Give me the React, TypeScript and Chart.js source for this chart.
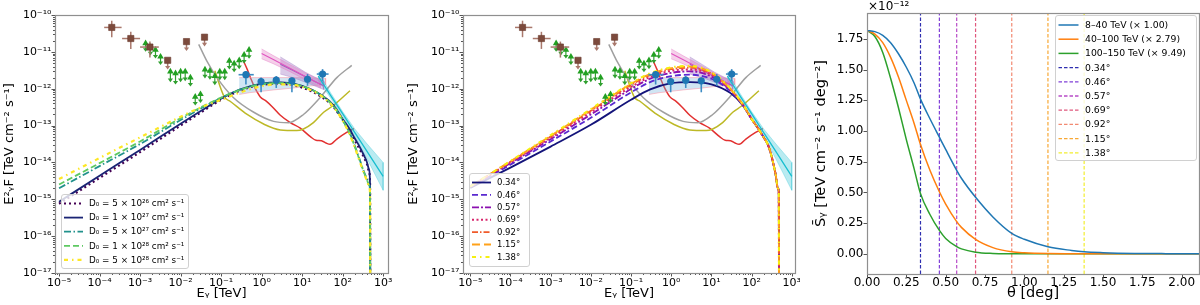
import React, { useEffect, useRef } from 'react';
import { Chart, registerables } from 'chart.js';

Chart.register(...registerables);

const FONT = "'DejaVu Sans', 'Liberation Sans', sans-serif";
const FRAME = '#8f8f8f';
const TICK = '#555555';

// ---------------- axis ticks ----------------
const E_TICKS = [1e-5, 1e-4, 1e-3, 1e-2, 1e-1, 1, 10, 100, 1000];
const E_TICK_LABELS = ['10⁻⁵', '10⁻⁴', '10⁻³', '10⁻²', '10⁻¹', '10⁰', '10¹', '10²', '10³'];
const F_TICKS = [1e-17, 1e-16, 1e-15, 1e-14, 1e-13, 1e-12, 1e-11, 1e-10];
const F_TICK_LABELS = ['10⁻¹⁷', '10⁻¹⁶', '10⁻¹⁵', '10⁻¹⁴', '10⁻¹³', '10⁻¹²', '10⁻¹¹', '10⁻¹⁰'];
const THETA_TICKS = [0, 0.25, 0.5, 0.75, 1.0, 1.25, 1.5, 1.75, 2.0];
const THETA_TICK_LABELS = ['0.00', '0.25', '0.50', '0.75', '1.00', '1.25', '1.50', '1.75', '2.00'];
const S_TICKS = [0, 0.25, 0.5, 0.75, 1.0, 1.25, 1.5, 1.75];
const S_TICK_LABELS = ['0.00', '0.25', '0.50', '0.75', '1.00', '1.25', '1.50', '1.75'];

// ---------------- observational data (TeV, TeV cm^-2 s^-1) ----------------
// brown squares
const SQ_E = [2.0e-4, 5.9e-4, 1.75e-3, 4.8e-3, 1.4e-2, 3.9e-2];
const SQ_F = [4.6e-11, 2.3e-11, 1.35e-11, 5.9e-12, 1.9e-11, 2.5e-11];
const SQ_E_LO = [1.3e-4, 3.6e-4, 1.0e-3, null, null, null];
const SQ_E_HI = [3.5e-4, 1.0e-3, 2.9e-3, null, null, null];
const SQ_F_LO = [2.5e-11, 1.2e-11, 7.0e-12, 3.3e-12, 1.05e-11, 1.4e-11];
const SQ_F_HI = [7.0e-11, 3.5e-11, 1.9e-11, null, null, null];
const SQ_UL = [false, false, false, true, true, true];

// green triangles (upper limits)
const TRI_E = [1.37e-3, 1.8e-3, 2.4e-3, 3.2e-3, 5.6e-3, 7.5e-3, 1.0e-2, 1.3e-2, 1.75e-2, 2.3e-2, 3.1e-2,
  4.0e-2, 5.3e-2, 7.0e-2, 9.3e-2, 0.123, 0.16, 0.21, 0.28, 0.37, 0.49];
const TRI_F = [1.7e-11, 1.36e-11, 1.13e-11, 7.4e-12, 2.9e-12, 2.6e-12, 2.9e-12, 2.9e-12, 2.0e-12, 6.0e-13, 7.1e-13,
  3.3e-12, 3.05e-12, 2.2e-12, 2.9e-12, 2.9e-12, 5.7e-12, 4.8e-12, 5.9e-12, 8.3e-12, 1.13e-11];
const TRI_F_LO = [1.0e-11, 8.0e-12, 6.6e-12, 4.4e-12, 1.5e-12, 1.3e-12, 1.5e-12, 1.6e-12, 1.15e-12, 3.5e-13, 4.1e-13,
  1.9e-12, 1.75e-12, 1.25e-12, 1.7e-12, 1.7e-12, 3.3e-12, 2.8e-12, 3.4e-12, 4.8e-12, 6.5e-12];

// blue circles
const CIR_E = [0.41, 0.97, 2.3, 5.6, 13.6, 32];
const CIR_F = [2.4e-12, 1.57e-12, 1.7e-12, 1.64e-12, 1.8e-12, 2.5e-12];
const CIR_E_LO = [0.27, null, null, null, null, 23];
const CIR_E_HI = [0.64, null, null, null, null, 45];
const CIR_F_LO = [1.3e-12, 8.0e-13, 1.05e-12, 8.0e-13, 1.2e-12, 1.6e-12];
const CIR_F_HI = [3.0e-12, 2.0e-12, 2.2e-12, 2.0e-12, 2.5e-12, 3.4e-12];

// light-blue band around the circles
const CBAND_E = [0.28, 0.5, 1, 2, 5, 10, 20, 38];
const CBAND_LO = [7.0e-13, 7.8e-13, 8.5e-13, 9.3e-13, 1.02e-12, 1.12e-12, 1.22e-12, 1.3e-12];
const CBAND_HI = [2.0e-12, 2.0e-12, 2.0e-12, 2.0e-12, 2.0e-12, 1.98e-12, 1.95e-12, 1.9e-12];

// magenta spectrum + band
const MAG_E = [1.0, 2, 5, 10, 28];
const MAG_F = [9.0e-12, 6.1e-12, 3.6e-12, 2.4e-12, 1.33e-12];
const MAG_LO = [6.5e-12, 4.7e-12, 2.9e-12, 1.95e-12, 1.07e-12];
const MAG_HI = [1.2e-11, 7.8e-12, 4.5e-12, 3.0e-12, 1.65e-12];

// purple spectrum + band
const PUR_E = [2.9, 6, 12, 20, 34];
const PUR_F = [4.6e-12, 3.1e-12, 2.1e-12, 1.6e-12, 1.2e-12];
const PUR_LO = [2.5e-12, 2.0e-12, 1.5e-12, 1.2e-12, 0.95e-12];
const PUR_HI = [7.3e-12, 4.5e-12, 2.8e-12, 2.1e-12, 1.6e-12];

// cyan spectrum + band
const CYA_E = [25, 50, 100, 200, 400, 1000];
const CYA_F = [2.2e-12, 6.7e-13, 2.1e-13, 6.4e-14, 2.0e-14, 4.2e-15];
const CYA_LO = [1.67e-12, 5.7e-13, 1.8e-13, 5.1e-14, 1.26e-14, 1.75e-15];
const CYA_HI = [2.9e-12, 7.9e-13, 2.4e-13, 8.1e-14, 3.2e-14, 1.0e-14];

// sensitivity curves
const GRAY_E = [0.028, 0.045, 0.079, 0.2, 0.64, 1.98, 4.6, 10.8, 28, 72, 168];
const GRAY_F = [1.6e-11, 5.5e-12, 2.0e-12, 5.8e-13, 2.3e-13, 1.3e-13, 1.2e-13, 2.0e-13, 5.8e-13, 2.0e-12, 4.3e-12];
const OLIVE_E = [0.07, 0.12, 0.17, 0.44, 1.12, 2.9, 7.4, 10.8, 19, 34, 59, 152];
const OLIVE_F = [3.05e-12, 6.0e-13, 4.5e-13, 2.0e-13, 1.1e-13, 7.6e-14, 7.3e-14, 8.1e-14, 1.2e-13, 2.3e-13, 3.5e-13, 8.8e-13];
const RED_E = [0.35, 0.45, 0.55, 0.7, 0.93, 1.3, 1.8, 2.9, 5.1, 9, 16, 22, 30, 40, 49, 72, 126, 190];
const RED_F = [5.9e-12, 3.2e-12, 1.8e-12, 1.0e-12, 6.0e-13, 4.6e-13, 3.3e-13, 1.9e-13, 1.2e-13, 8.5e-14, 5.0e-14,
  4.0e-14, 3.9e-14, 3.3e-14, 3.1e-14, 4.3e-14, 6.5e-14, 8.3e-14];

// ---------------- model curves, log10(E^2 F) ----------------
const LEFT_E = [1e-5, 1e-4, 1e-3, 1e-2, 0.03, 0.1, 0.3, 1, 3, 10, 30, 60, 100, 150, 200, 250, 300, 350, 400, 450, 475, 480];
const D0_5E26 = [-15.12, -14.42, -13.72, -13.0, -12.66, -12.3, -12.05, -11.89, -11.87, -11.97, -12.22, -12.5, -12.85, -13.15, -13.4, -13.6, -13.76, -13.9, -14.05, -14.25, -14.6, -17];
const D0_1E27 = [-15.07, -14.36, -13.66, -12.95, -12.62, -12.27, -12.02, -11.86, -11.83, -11.92, -12.17, -12.45, -12.82, -13.1, -13.35, -13.53, -13.7, -13.85, -14.0, -14.2, -14.6, -17];
const D0_5E27 = [-14.7, -14.1, -13.5, -12.85, -12.55, -12.25, -12.02, -11.87, -11.84, -11.93, -12.18, -12.48, -12.85, -13.2, -13.55, -13.85, -14.1, -14.3, -14.45, -14.6, -14.8, -17];
const D0_1E28 = [-14.6, -14.02, -13.43, -12.8, -12.52, -12.24, -12.03, -11.88, -11.85, -11.93, -12.18, -12.48, -12.85, -13.22, -13.57, -13.87, -14.12, -14.32, -14.47, -14.62, -14.82, -17];
const D0_5E28 = [-14.45, -13.88, -13.32, -12.76, -12.52, -12.3, -12.1, -11.93, -11.88, -11.95, -12.2, -12.5, -12.87, -13.25, -13.6, -13.9, -14.15, -14.35, -14.5, -14.65, -14.85, -17];

const MID_E = [1e-5, 1e-4, 1e-3, 1e-2, 0.1, 0.3, 1, 3, 10, 30, 60, 100, 150, 200, 250, 300, 350, 400, 450, 475, 480];
const R_034 = [-14.69, -14.14, -13.57, -12.98, -12.30, -12.02, -11.85, -11.82, -11.88, -12.12, -12.45, -12.82, -13.1, -13.32, -13.5, -13.75, -14.05, -14.35, -14.7, -14.8, -17];
const R_046 = [-14.67, -14.06, -13.43, -12.79, -12.10, -11.82, -11.66, -11.62, -11.73, -12.07, -12.44, -12.82, -13.1, -13.32, -13.5, -13.75, -14.05, -14.35, -14.7, -14.8, -17];
const R_057 = [-14.66, -14.02, -13.37, -12.70, -12.01, -11.73, -11.57, -11.53, -11.67, -12.04, -12.43, -12.82, -13.1, -13.32, -13.5, -13.75, -14.05, -14.35, -14.7, -14.8, -17];
const R_069 = [-14.66, -14.00, -13.33, -12.64, -11.95, -11.68, -11.51, -11.48, -11.62, -12.03, -12.43, -12.82, -13.1, -13.32, -13.5, -13.75, -14.05, -14.35, -14.7, -14.8, -17];
const R_092 = [-14.65, -13.98, -13.30, -12.60, -11.90, -11.63, -11.47, -11.43, -11.59, -12.01, -12.42, -12.82, -13.1, -13.32, -13.5, -13.75, -14.05, -14.35, -14.7, -14.8, -17];
const R_115 = [-14.65, -13.97, -13.28, -12.57, -11.87, -11.60, -11.44, -11.40, -11.57, -12.01, -12.42, -12.82, -13.1, -13.32, -13.5, -13.75, -14.05, -14.35, -14.7, -14.8, -17];
const R_138 = [-14.65, -13.96, -13.26, -12.55, -11.85, -11.58, -11.42, -11.38, -11.55, -12.00, -12.42, -12.82, -13.1, -13.32, -13.5, -13.75, -14.05, -14.35, -14.7, -14.8, -17];

// ---------------- right panel: surface brightness profiles (units of 1e-12) ----------------
const THETA = [0, 0.05, 0.1, 0.15, 0.2, 0.25, 0.3, 0.34, 0.4, 0.46, 0.5, 0.57, 0.6, 0.69, 0.8, 0.92, 1.0, 1.15, 1.3, 1.38, 1.5, 1.7, 1.9, 2.11];
const S_8_40 = [1.82, 1.81, 1.78, 1.72, 1.63, 1.52, 1.39, 1.26, 1.10, 0.95, 0.85, 0.68, 0.615, 0.46, 0.30, 0.166, 0.118, 0.057, 0.027, 0.016, 0.009, 0.003, 0.001, 0.0003];
const S_40_100 = [1.82, 1.79, 1.72, 1.60, 1.44, 1.25, 1.06, 0.89, 0.68, 0.505, 0.405, 0.262, 0.215, 0.117, 0.05, 0.016, 0.008, 0.002, 0.0006, 0.0003, 0.0001, 0, 0, 0];
const S_100_150 = [1.82, 1.77, 1.64, 1.43, 1.19, 0.93, 0.69, 0.49, 0.32, 0.19, 0.125, 0.058, 0.04, 0.013, 0.003, 0.0005, 0, 0, 0, 0, 0, 0, 0, 0];
const ANGLES = [0.34, 0.46, 0.57, 0.69, 0.92, 1.15, 1.38];
const ANGLE_LABELS = ['0.34°', '0.46°', '0.57°', '0.69°', '0.92°', '1.15°', '1.38°'];
const PROFILE_LABELS = ['8–40 TeV (× 1.00)', '40–100 TeV (× 2.79)', '100–150 TeV (× 9.49)'];
const D0_LABELS = ['D₀ = 5 × 10²⁶ cm² s⁻¹', 'D₀ = 1 × 10²⁷ cm² s⁻¹', 'D₀ = 5 × 10²⁷ cm² s⁻¹', 'D₀ = 1 × 10²⁸ cm² s⁻¹', 'D₀ = 5 × 10²⁸ cm² s⁻¹'];

// ---------------- styles ----------------
const D0_STYLES = [
  { color: '#440154', dash: [2, 3], width: 2.2 },
  { color: '#1a2474', dash: [], width: 1.8 },
  { color: '#21918c', dash: [7, 2.5, 1.5, 2.5], width: 1.8 },
  { color: '#5ec962', dash: [6, 3], width: 1.8 },
  { color: '#fde725', dash: [4, 4, 1.5, 4], width: 2.2 },
];
const ANG_STYLES = [
  { color: '#14147a', dash: [], width: 1.8 },
  { color: '#5a2ad0', dash: [6, 3], width: 1.8 },
  { color: '#8b10b0', dash: [7, 2, 2, 2], width: 1.8 },
  { color: '#d8246c', dash: [2, 2.5], width: 2 },
  { color: '#f05a2a', dash: [6, 2, 1.5, 2], width: 1.8 },
  { color: '#ffa21a', dash: [8, 4], width: 1.8 },
  { color: '#f5f010', dash: [4, 4, 1.5, 4], width: 2 },
];
const VLINE_COLORS = ['#2f2fb0', '#8040d8', '#b84cc8', '#e0587e', '#f28a72', '#f8a835', '#f2ee30'];
const PROFILE_COLORS = ['#1f77b4', '#ff7f0e', '#2ca02c'];

// ---------------- helpers ----------------
const pts = (xs: number[], ys: number[]) => xs.map((x, i) => ({ x, y: ys[i] }));
const ptsLog = (xs: number[], ls: number[]) => xs.map((x, i) => ({ x, y: Math.pow(10, ls[i]) }));
const bandPts = (xs: number[], lo: number[], hi: number[]) => [
  ...xs.map((x, i) => ({ x, y: hi[i] })),
  ...xs.map((x, i) => ({ x, y: lo[i] })).reverse(),
];

function lineDs(data: any[], color: string, width: number, dash: number[] = [], smooth = true): any {
  return {
    data, borderColor: color, backgroundColor: color, borderWidth: width, borderDash: dash,
    pointRadius: 0, showLine: true, fill: false,
    cubicInterpolationMode: smooth ? 'monotone' : 'default', tension: 0,
  };
}
function bandDs(data: any[], fillColor: string, edgeColor: string, edgeWidth = 0.8): any {
  return {
    data, borderColor: edgeColor, backgroundColor: fillColor, borderWidth: edgeWidth,
    pointRadius: 0, showLine: true, fill: 'shape', tension: 0,
  };
}

function sharedDatasets(): any[] {
  const circles = {
    data: CIR_E.map((x, i) => ({ x, y: CIR_F[i], xlo: CIR_E_LO[i], xhi: CIR_E_HI[i], ylo: CIR_F_LO[i], yhi: CIR_F_HI[i] })),
    showLine: false, pointStyle: 'circle', pointRadius: 3.6, pointBorderWidth: 0,
    pointBackgroundColor: '#1f77b4', borderColor: '#1f77b4',
    errorBars: { color: '#3d8cc4', width: 1.6 },
  };
  const squares = {
    data: SQ_E.map((x, i) => ({ x, y: SQ_F[i], xlo: SQ_E_LO[i], xhi: SQ_E_HI[i], ylo: SQ_F_LO[i], yhi: SQ_F_HI[i], ul: SQ_UL[i] })),
    showLine: false, pointStyle: 'rect', pointRadius: 4.4, pointBorderWidth: 0.6,
    pointBackgroundColor: '#7c4a3c', pointBorderColor: '#6a3a2e', borderColor: '#7c4a3c',
    errorBars: { color: '#a9786c', width: 1.5 },
  };
  const triangles = {
    data: TRI_E.map((x, i) => ({ x, y: TRI_F[i], ylo: TRI_F_LO[i], ul: true })),
    showLine: false, pointStyle: 'triangle', pointRadius: 3.8, pointBorderWidth: 0,
    pointBackgroundColor: '#22a022', borderColor: '#22a022',
    errorBars: { color: '#2fa02f', width: 1.2 },
  };
  return [circles, squares, triangles];
}
function spectraDatasets(): any[] {
  return [
    lineDs(pts(MAG_E, MAG_F), '#e055c0', 1.1, [], false),
    lineDs(pts(PUR_E, PUR_F), '#9467bd', 1.1, [], false),
    lineDs(pts(CYA_E, CYA_F), '#17becf', 1.3, [], false),
    bandDs(bandPts(MAG_E, MAG_LO, MAG_HI), 'rgba(227,119,194,0.35)', 'rgba(227,119,194,0.5)'),
    bandDs(bandPts(PUR_E, PUR_LO, PUR_HI), 'rgba(148,103,189,0.35)', 'rgba(148,103,189,0.45)'),
    bandDs(bandPts(CYA_E, CYA_LO, CYA_HI), 'rgba(23,190,207,0.3)', 'rgba(23,190,207,0.35)'),
    bandDs(bandPts(CBAND_E, CBAND_LO, CBAND_HI), 'rgba(120,180,222,0.35)', 'rgba(255,150,165,0.55)', 1),
    lineDs(pts(GRAY_E, GRAY_F), '#a0a0a0', 1.5),
    lineDs(pts(OLIVE_E, OLIVE_F), '#bdb926', 1.5),
    lineDs(pts(RED_E, RED_F), '#e23030', 1.5),
  ];
}

// ---------------- plugins ----------------
const errorBarPlugin = {
  id: 'errbars',
  beforeDatasetDraw(chart: any, args: any) {
    const ds: any = chart.data.datasets[args.index];
    if (!ds || !ds.errorBars) return;
    const { ctx, chartArea: a } = chart;
    const xs = chart.scales.x, ys = chart.scales.y;
    ctx.save();
    ctx.beginPath();
    ctx.rect(a.left, a.top, a.right - a.left, a.bottom - a.top);
    ctx.clip();
    ctx.strokeStyle = ds.errorBars.color;
    ctx.fillStyle = ds.errorBars.color;
    ctx.lineWidth = ds.errorBars.width;
    for (const p of ds.data) {
      const px = xs.getPixelForValue(p.x);
      const py = ys.getPixelForValue(p.y);
      if (p.xlo != null && p.xhi != null) {
        ctx.beginPath();
        ctx.moveTo(xs.getPixelForValue(p.xlo), py);
        ctx.lineTo(xs.getPixelForValue(p.xhi), py);
        ctx.stroke();
      }
      if (p.ylo != null) {
        const top = p.yhi != null ? ys.getPixelForValue(p.yhi) : py;
        const bot = ys.getPixelForValue(p.ylo);
        ctx.beginPath();
        ctx.moveTo(px, top);
        ctx.lineTo(px, p.ul ? bot - 2 : bot);
        ctx.stroke();
        if (p.ul) {
          ctx.beginPath();
          ctx.moveTo(px - 2.6, bot - 3.6);
          ctx.lineTo(px + 2.6, bot - 3.6);
          ctx.lineTo(px, bot);
          ctx.closePath();
          ctx.fill();
        }
      }
    }
    ctx.restore();
  },
};

function framePlugin(o: { xMajor: number[]; yMajor: number[]; log: boolean }) {
  return {
    id: 'frame',
    afterDraw(chart: any) {
      const { ctx, chartArea: a } = chart;
      const xs = chart.scales.x, ys = chart.scales.y;
      const minors = (majors: number[]) => {
        const out: number[] = [];
        [majors[0] / 10, ...majors].forEach((m) => { for (let k = 2; k <= 9; k++) out.push(m * k); });
        return out;
      };
      ctx.save();
      ctx.strokeStyle = TICK;
      ctx.lineWidth = 1;
      const xt = (v: number, len: number) => {
        const p = xs.getPixelForValue(v);
        if (p < a.left - 0.6 || p > a.right + 0.6) return;
        const px = Math.round(p) + 0.5;
        ctx.beginPath(); ctx.moveTo(px, a.bottom); ctx.lineTo(px, a.bottom + len); ctx.stroke();
      };
      const yt = (v: number, len: number) => {
        const p = ys.getPixelForValue(v);
        if (p < a.top - 0.6 || p > a.bottom + 0.6) return;
        const py = Math.round(p) + 0.5;
        ctx.beginPath(); ctx.moveTo(a.left, py); ctx.lineTo(a.left - len, py); ctx.stroke();
      };
      o.xMajor.forEach((v) => xt(v, 3.5));
      o.yMajor.forEach((v) => yt(v, 3.5));
      if (o.log) {
        minors(o.xMajor).forEach((v) => xt(v, 2));
        minors(o.yMajor).forEach((v) => yt(v, 2));
      }
      ctx.strokeStyle = FRAME;
      ctx.lineWidth = 1.2;
      ctx.strokeRect(Math.round(a.left) + 0.5, Math.round(a.top) + 0.5, Math.round(a.right - a.left), Math.round(a.bottom - a.top));
      ctx.restore();
    },
  };
}

type LegItem = { label: string; color: string; dash: number[]; width: number };
function legendPlugin(o: { x: number; y: number; w: number; h: number; row0: number; pitch: number; lx0: number; lx1: number; tx: number; size: number; items: LegItem[] }) {
  return {
    id: 'legendbox',
    afterDraw(chart: any) {
      const ctx = chart.ctx;
      ctx.save();
      const r = 2.5;
      ctx.beginPath();
      ctx.moveTo(o.x + r, o.y);
      ctx.lineTo(o.x + o.w - r, o.y);
      ctx.arcTo(o.x + o.w, o.y, o.x + o.w, o.y + r, r);
      ctx.lineTo(o.x + o.w, o.y + o.h - r);
      ctx.arcTo(o.x + o.w, o.y + o.h, o.x + o.w - r, o.y + o.h, r);
      ctx.lineTo(o.x + r, o.y + o.h);
      ctx.arcTo(o.x, o.y + o.h, o.x, o.y + o.h - r, r);
      ctx.lineTo(o.x, o.y + r);
      ctx.arcTo(o.x, o.y, o.x + r, o.y, r);
      ctx.closePath();
      ctx.fillStyle = 'rgba(255,255,255,0.8)';
      ctx.fill();
      ctx.strokeStyle = '#d0d0d0';
      ctx.lineWidth = 1;
      ctx.stroke();
      o.items.forEach((it, i) => {
        const y = o.row0 + i * o.pitch;
        ctx.beginPath();
        ctx.setLineDash(it.dash);
        ctx.strokeStyle = it.color;
        ctx.lineWidth = it.width;
        ctx.moveTo(o.lx0, y);
        ctx.lineTo(o.lx1, y);
        ctx.stroke();
        ctx.setLineDash([]);
        ctx.fillStyle = '#000';
        ctx.font = `${o.size}px ${FONT}`;
        ctx.textBaseline = 'middle';
        ctx.textAlign = 'left';
        ctx.fillText(it.label, o.tx, y + 0.5);
      });
      ctx.restore();
    },
  };
}

function offsetTextPlugin(text: string) {
  return {
    id: 'offsettext',
    afterDraw(chart: any) {
      const { ctx, chartArea: a } = chart;
      ctx.save();
      ctx.fillStyle = '#000';
      ctx.font = `12px ${FONT}`;
      ctx.textBaseline = 'alphabetic';
      ctx.textAlign = 'left';
      ctx.fillText(text, a.left + 1, a.top - 3);
      ctx.restore();
    },
  };
}

// ---------------- chart builders ----------------
const SED_TICK_FONT = 11;
const SED_TITLE_FONT = 13;

function sedChart(canvas: HTMLCanvasElement, panel: 'left' | 'mid') {
  const left = panel === 'left';
  const models = left
    ? [D0_5E26, D0_1E27, D0_5E27, D0_1E28, D0_5E28].map((ls, i) =>
        lineDs(ptsLog(LEFT_E, ls), D0_STYLES[i].color, D0_STYLES[i].width, D0_STYLES[i].dash))
    : [R_034, R_046, R_057, R_069, R_092, R_115, R_138].map((ls, i) =>
        lineDs(ptsLog(MID_E, ls), ANG_STYLES[i].color, ANG_STYLES[i].width, ANG_STYLES[i].dash));
  const datasets = [...sharedDatasets(), ...models.slice().reverse(), ...spectraDatasets()];
  const legendItems: LegItem[] = left
    ? D0_LABELS.map((label, i) => ({ label, ...D0_STYLES[i] }))
    : ANGLE_LABELS.map((label, i) => ({ label, ...ANG_STYLES[i] }));
  const legend = left
    ? legendPlugin({ x: 61.5, y: 194.5, w: 127, h: 74, row0: 203.5, pitch: 14.1, lx0: 64, lx1: 83, tx: 89, size: 8.8, items: legendItems })
    : legendPlugin({ x: 69.5, y: 173.5, w: 60, h: 93, row0: 182.5, pitch: 12.4, lx0: 72, lx1: 91, tx: 97, size: 8.5, items: legendItems });
  return new Chart(canvas, {
    type: 'line',
    data: { datasets },
    options: {
      animation: false,
      responsive: false,
      devicePixelRatio: 1,
      events: [],
      layout: { padding: { left: 0, right: left ? 12 : 3, top: 15, bottom: 0 } },
      plugins: { legend: { display: false }, tooltip: { enabled: false } },
      scales: {
        x: {
          type: 'logarithmic',
          position: 'bottom',
          bounds: 'data',
          min: left ? Math.pow(10, -5.1) : Math.pow(10, -5.18),
          max: left ? Math.pow(10, 3.12) : Math.pow(10, 3.08),
          afterBuildTicks: (s: any) => { s.ticks = E_TICKS.map((v) => ({ value: v })); },
          afterFit: (s: any) => { s.height = 32; s.paddingLeft = 0; s.paddingRight = 0; },
          grid: { display: false, drawTicks: false },
          border: { display: false },
          ticks: { autoSkip: false, maxRotation: 0, minRotation: 0, padding: 3.5, color: '#000', font: { size: SED_TICK_FONT, family: FONT }, callback: (_v: any, i: number) => E_TICK_LABELS[i] },
          title: { display: true, text: 'Eᵧ [TeV]', color: '#000', font: { size: SED_TITLE_FONT, family: FONT }, padding: { top: 0, bottom: 4 } },
        },
        y: {
          type: 'logarithmic',
          position: 'left',
          bounds: 'data',
          min: 1e-17,
          max: 1e-10,
          afterBuildTicks: (s: any) => { s.ticks = F_TICKS.map((v) => ({ value: v })); },
          afterFit: (s: any) => { s.width = left ? 55 : 63; s.paddingTop = 0; s.paddingBottom = 0; },
          grid: { display: false, drawTicks: false },
          border: { display: false },
          ticks: { autoSkip: false, padding: 3.5, color: '#000', font: { size: SED_TICK_FONT, family: FONT }, callback: (_v: any, i: number) => F_TICK_LABELS[i] },
          title: { display: true, text: 'E²ᵧF [TeV cm⁻² s⁻¹]', color: '#000', font: { size: SED_TITLE_FONT, family: FONT }, padding: { top: left ? 2 : 6, bottom: 0 } },
        },
      },
    } as any,
    plugins: [errorBarPlugin, framePlugin({ xMajor: E_TICKS, yMajor: F_TICKS, log: true }), legend] as any,
  });
}

const S_MIN = -0.165;
const S_MAX = 1.962;

function profileChart(canvas: HTMLCanvasElement) {
  const profiles = [S_8_40, S_40_100, S_100_150].map((s, i) => lineDs(pts(THETA, s), PROFILE_COLORS[i], 1.5));
  const vlines = ANGLES.map((a, i) => lineDs([{ x: a, y: S_MIN }, { x: a, y: S_MAX }], VLINE_COLORS[i], 1.2, [3.5, 2], false));
  const items: LegItem[] = [
    ...PROFILE_LABELS.map((label, i) => ({ label, color: PROFILE_COLORS[i], dash: [], width: 1.5 })),
    ...ANGLE_LABELS.map((label, i) => ({ label, color: VLINE_COLORS[i], dash: [3.5, 2], width: 1.3 })),
  ];
  return new Chart(canvas, {
    type: 'line',
    data: { datasets: [...profiles, ...vlines] },
    options: {
      animation: false,
      responsive: false,
      devicePixelRatio: 1,
      events: [],
      layout: { padding: { left: 0, right: 1, top: 13, bottom: 0 } },
      plugins: { legend: { display: false }, tooltip: { enabled: false } },
      scales: {
        x: {
          type: 'linear',
          position: 'bottom',
          bounds: 'data',
          min: 0,
          max: 2.11,
          afterBuildTicks: (s: any) => { s.ticks = THETA_TICKS.map((v) => ({ value: v })); },
          afterFit: (s: any) => { s.height = 31; s.paddingLeft = 0; s.paddingRight = 0; },
          grid: { display: false, drawTicks: false },
          border: { display: false },
          ticks: { autoSkip: false, maxRotation: 0, minRotation: 0, padding: 1.5, color: '#000', font: { size: 12, family: FONT }, callback: (_v: any, i: number) => THETA_TICK_LABELS[i] },
          title: { display: true, text: 'θ [deg]', color: '#000', font: { size: 14.5, family: FONT }, padding: { top: 0, bottom: 3 } },
        },
        y: {
          type: 'linear',
          position: 'left',
          bounds: 'data',
          min: S_MIN,
          max: S_MAX,
          afterBuildTicks: (s: any) => { s.ticks = S_TICKS.map((v) => ({ value: v })); },
          afterFit: (s: any) => { s.width = 67; s.paddingTop = 0; s.paddingBottom = 0; },
          grid: { display: false, drawTicks: false },
          border: { display: false },
          ticks: { autoSkip: false, padding: 3.5, color: '#000', font: { size: 12, family: FONT }, callback: (_v: any, i: number) => S_TICK_LABELS[i] },
          title: { display: true, text: 'S̄ᵧ [TeV cm⁻² s⁻¹ deg⁻²]', color: '#000', font: { size: 14.5, family: FONT }, padding: { top: 13, bottom: 0 } },
        },
      },
    } as any,
    plugins: [
      framePlugin({ xMajor: THETA_TICKS, yMajor: S_TICKS, log: false }),
      legendPlugin({ x: 255.5, y: 15.5, w: 141, h: 145, row0: 25, pitch: 14.2, lx0: 258.5, lx1: 278.5, tx: 285, size: 9.3, items }),
      offsetTextPlugin('×10⁻¹²'),
    ] as any,
  });
}

export default function App() {
  const r1 = useRef<HTMLCanvasElement>(null);
  const r2 = useRef<HTMLCanvasElement>(null);
  const r3 = useRef<HTMLCanvasElement>(null);
  useEffect(() => {
    Chart.defaults.font.family = FONT;
    Chart.defaults.font.size = 10;
    Chart.defaults.color = '#000';
    const c1 = sedChart(r1.current as HTMLCanvasElement, 'left');
    const c2 = sedChart(r2.current as HTMLCanvasElement, 'mid');
    const c3 = profileChart(r3.current as HTMLCanvasElement);
    return () => { c1.destroy(); c2.destroy(); c3.destroy(); };
  }, []);
  const cs = (left: number): React.CSSProperties => ({ position: 'absolute', left, top: 0, width: 400, height: 305 });
  return (
    <div style={{ position: 'absolute', left: 0, top: 0, width: 1200, height: 305, background: '#ffffff', overflow: 'hidden' }}>
      <canvas ref={r1} width={400} height={305} style={cs(0)} />
      <canvas ref={r2} width={400} height={305} style={cs(400)} />
      <canvas ref={r3} width={400} height={305} style={cs(800)} />
    </div>
  );
}
